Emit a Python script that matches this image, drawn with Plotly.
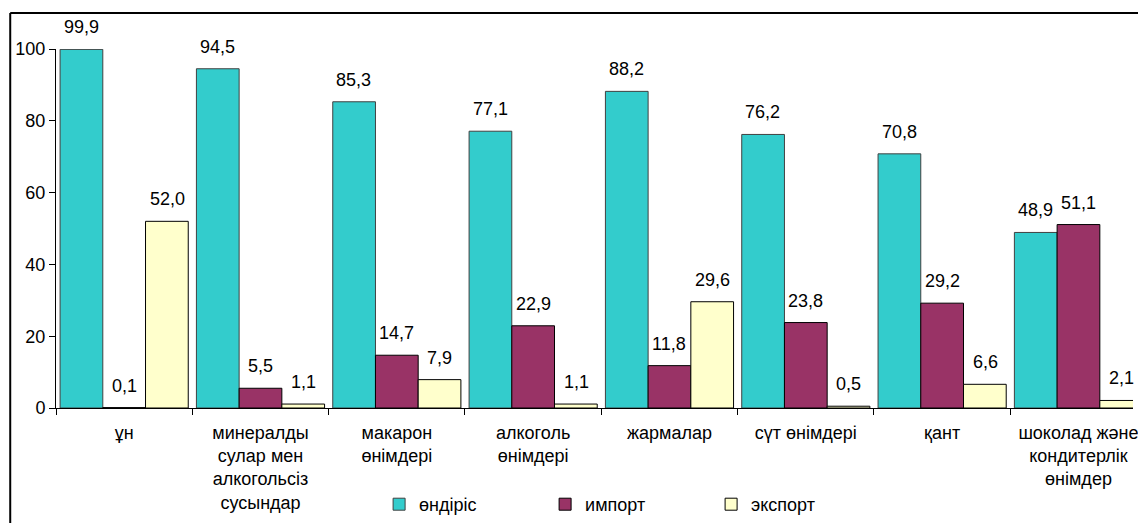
import plotly.graph_objects as go

categories = ['ұн', 'минералды<br>сулар мен<br>алкогольсіз<br>сусындар', 'макарон<br>өнімдері',
              'алкоголь<br>өнімдері', 'жармалар', 'сүт өнімдері', 'қант',
              'шоколад және<br>кондитерлік<br>өнімдер']
production = [99.9, 94.5, 85.3, 77.1, 88.2, 76.2, 70.8, 48.9]
imports = [0.1, 5.5, 14.7, 22.9, 11.8, 23.8, 29.2, 51.1]
exports = [52.0, 1.1, 7.9, 1.1, 29.6, 0.5, 6.6, 2.1]
series_names = ['өндіріс', 'импорт', 'экспорт']

font = 'Liberation Sans, Arial, sans-serif'
colors = ['#33CCCC', '#993366', '#FFFFCC']
edges = ['#404040', '#000000', '#000000']

fig = go.Figure()
for name, vals, c, e in zip(series_names, [production, imports, exports], colors, edges):
    fig.add_trace(go.Bar(x=categories, y=vals, name=name,
                         marker=dict(color=c, line=dict(color=e, width=1))))

# value labels, comma as decimal separator
bar_px = 43
for k, vals in enumerate([production, imports, exports]):
    for cat, v in zip(categories, vals):
        fig.add_annotation(x=cat, y=v, text=f"{v:.1f}".replace('.', ','), showarrow=False,
                           xshift=(k - 1) * bar_px, yshift=10, yanchor='bottom',
                           font=dict(size=18, color='black', family=font))

# outer frame (left and top edges; right/bottom fall outside the page)
fig.add_shape(type='line', xref='paper', yref='paper', x0=-0.0425, x1=-0.0425, y0=-0.7, y1=1.1,
              line=dict(color='black', width=2))
fig.add_shape(type='line', xref='paper', yref='paper', x0=-0.0425, x1=1.1, y0=1.1, y1=1.1,
              line=dict(color='black', width=2))

fig.update_layout(
    width=1130, height=515,
    margin=dict(l=48, r=0, t=41, b=114),
    paper_bgcolor='white', plot_bgcolor='white',
    font=dict(family=font, size=18, color='black'),
    barmode='group', bargap=0.06, bargroupgap=0,
    showlegend=True,
    legend=dict(orientation='h', x=0.3, xanchor='left', y=-0.27, yanchor='middle',
                entrywidth=121, itemwidth=30, font=dict(size=18), itemclick=False,
                traceorder='normal'),
    xaxis=dict(range=[-0.5, 7.4], showline=True, linecolor='black', linewidth=1,
               ticks='outside', tickson='boundaries', ticklen=6, tickcolor='black',
               showgrid=False, tickangle=0, tickfont=dict(size=18), ticklabelstandoff=8),
    yaxis=dict(range=[0, 100], tickvals=[0, 20, 40, 60, 80, 100], showline=True,
               linecolor='black', linewidth=1, ticks='outside', ticklen=6, tickcolor='black',
               showgrid=False, zeroline=False, tickfont=dict(size=18)),
)

fig.write_html("out.html")
